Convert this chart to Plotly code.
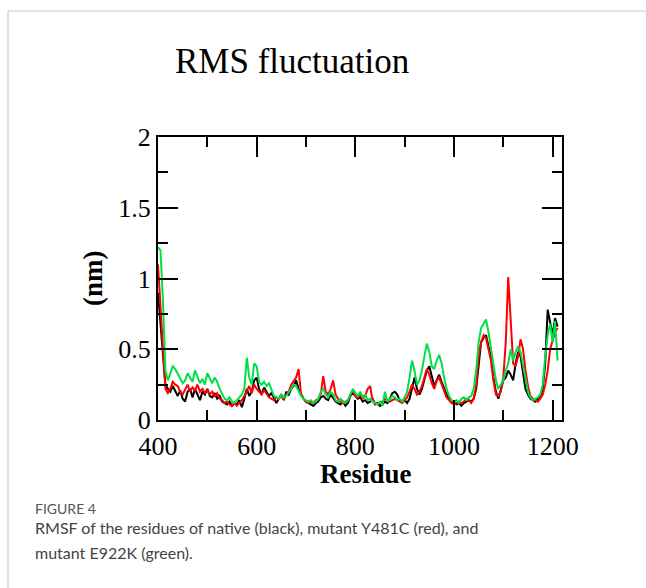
import plotly.graph_objects as go

residues = list(range(400, 1211, 5))

native = [
    0.90, 0.70, 0.45, 0.25, 0.22, 0.20, 0.24, 0.20, 0.17, 0.21,
    0.15, 0.13, 0.20, 0.22, 0.16, 0.22, 0.18, 0.14, 0.20, 0.18,
    0.22, 0.17, 0.16, 0.19, 0.15, 0.17, 0.13, 0.12, 0.11, 0.13,
    0.10, 0.12, 0.11, 0.14, 0.09, 0.15, 0.22, 0.17, 0.20, 0.28,
    0.30, 0.22, 0.18, 0.23, 0.20, 0.17, 0.19, 0.15, 0.12, 0.15,
    0.18, 0.14, 0.20, 0.18, 0.22, 0.24, 0.28, 0.22, 0.18, 0.15,
    0.13, 0.12, 0.11, 0.10, 0.12, 0.13, 0.16, 0.17, 0.15, 0.14,
    0.18, 0.15, 0.13, 0.12, 0.11, 0.13, 0.10, 0.12, 0.17, 0.19,
    0.17, 0.15, 0.16, 0.13, 0.14, 0.12, 0.13, 0.15, 0.11, 0.12,
    0.10, 0.11, 0.13, 0.12, 0.15, 0.19, 0.20, 0.18, 0.14, 0.13,
    0.14, 0.12, 0.15, 0.22, 0.30, 0.22, 0.18, 0.22, 0.28, 0.35,
    0.38, 0.30, 0.24, 0.28, 0.32, 0.27, 0.22, 0.18, 0.15, 0.13,
    0.12, 0.11, 0.12, 0.10, 0.12, 0.13, 0.14, 0.13, 0.15, 0.22,
    0.40, 0.55, 0.58, 0.60, 0.52, 0.45, 0.30, 0.20, 0.15, 0.22,
    0.28, 0.30, 0.35, 0.32, 0.28, 0.40, 0.48, 0.45, 0.35, 0.22,
    0.18, 0.15, 0.14, 0.13, 0.15, 0.16, 0.22, 0.40, 0.78, 0.70,
    0.60, 0.72, 0.66,
]

y481c = [
    1.10, 0.80, 0.50, 0.22, 0.19, 0.22, 0.27, 0.25, 0.24, 0.20,
    0.18, 0.22, 0.25, 0.20, 0.23, 0.21, 0.25, 0.20, 0.22, 0.19,
    0.21, 0.18, 0.20, 0.17, 0.19, 0.15, 0.14, 0.12, 0.13, 0.11,
    0.10, 0.12, 0.10, 0.12, 0.14, 0.17, 0.20, 0.24, 0.19, 0.25,
    0.22, 0.20, 0.18, 0.21, 0.18, 0.16, 0.15, 0.14, 0.16, 0.15,
    0.17, 0.15, 0.18, 0.20, 0.25, 0.28, 0.30, 0.36, 0.18, 0.15,
    0.13, 0.12, 0.13, 0.12, 0.14, 0.15, 0.18, 0.31, 0.20, 0.18,
    0.22, 0.28, 0.18, 0.15, 0.13, 0.12, 0.13, 0.14, 0.18, 0.21,
    0.17, 0.16, 0.18, 0.15, 0.17, 0.22, 0.24, 0.14, 0.12, 0.11,
    0.12, 0.13, 0.15, 0.14, 0.13, 0.14, 0.15, 0.14, 0.13, 0.12,
    0.14, 0.16, 0.20, 0.25, 0.22, 0.18, 0.20, 0.24, 0.30, 0.36,
    0.32, 0.26, 0.22, 0.28, 0.30, 0.25, 0.20, 0.16, 0.14, 0.12,
    0.11, 0.12, 0.13, 0.12, 0.13, 0.15, 0.14, 0.12, 0.15, 0.25,
    0.45, 0.55, 0.60, 0.58, 0.50, 0.42, 0.28, 0.18, 0.17, 0.20,
    0.30, 0.55, 1.01, 0.70, 0.40, 0.38, 0.45, 0.57, 0.50, 0.35,
    0.24, 0.17, 0.15, 0.14, 0.13, 0.15, 0.18, 0.25, 0.35, 0.50,
    0.56, 0.62, 0.65,
]

e922k = [
    1.22, 1.20, 0.85, 0.35, 0.28, 0.33, 0.38, 0.36, 0.33, 0.30,
    0.26, 0.28, 0.33, 0.30, 0.27, 0.35, 0.31, 0.26, 0.29, 0.25,
    0.33, 0.30, 0.26, 0.30, 0.27, 0.22, 0.18, 0.15, 0.14, 0.16,
    0.13, 0.12, 0.14, 0.16, 0.18, 0.22, 0.44, 0.30, 0.25, 0.40,
    0.38, 0.27, 0.25, 0.27, 0.24, 0.26, 0.22, 0.17, 0.16, 0.15,
    0.18, 0.16, 0.17, 0.20, 0.22, 0.25, 0.24, 0.20, 0.17, 0.15,
    0.14, 0.13, 0.14, 0.12, 0.13, 0.15, 0.20, 0.22, 0.18, 0.16,
    0.20, 0.18, 0.14, 0.13, 0.15, 0.13, 0.12, 0.14, 0.18, 0.22,
    0.19, 0.17, 0.20, 0.16, 0.18, 0.14, 0.15, 0.13, 0.12, 0.11,
    0.13, 0.10, 0.20, 0.13, 0.15, 0.17, 0.16, 0.14, 0.15, 0.13,
    0.16, 0.20, 0.30, 0.42, 0.35, 0.25, 0.28, 0.35, 0.45, 0.54,
    0.48, 0.38, 0.36, 0.42, 0.46, 0.40, 0.30, 0.22, 0.17, 0.14,
    0.13, 0.14, 0.12, 0.15, 0.16, 0.14, 0.16, 0.17, 0.22, 0.35,
    0.55, 0.65, 0.68, 0.71, 0.62, 0.50, 0.38, 0.28, 0.22, 0.25,
    0.28, 0.35, 0.40, 0.50, 0.42, 0.48, 0.52, 0.48, 0.38, 0.28,
    0.20, 0.16, 0.14, 0.15, 0.16, 0.18, 0.25, 0.45, 0.60, 0.68,
    0.55, 0.70, 0.42,
]

series_names = ["native", "mutant Y481C", "mutant E922K"]
series_colors = ["#000000", "#ff0000", "#00e046"]

W, H = 646, 588
L, R, T, B = 158, 84, 137, 168
PW, PH = W - L - R, H - T - B


def px(xp):
    return (xp - L) / PW


def py(yp):
    return (H - B - yp) / PH


fig = go.Figure()
for name, vals, col in zip(series_names, [native, y481c, e922k], series_colors):
    fig.add_trace(go.Scatter(x=residues, y=vals, mode="lines", name=name,
                             line=dict(color=col, width=2)))

serif = "Liberation Serif, Times New Roman, serif"
axis_common = dict(showline=True, linecolor="black", linewidth=2, mirror="ticks",
                   ticks="inside", ticklen=20, tickwidth=2, tickcolor="black",
                   showgrid=False, zeroline=False,
                   tickfont=dict(family=serif, size=26, color="black"))

fig.update_xaxes(range=[400, 1219], tick0=400, dtick=200, ticklabelstandoff=2,
                 minor=dict(ticks="inside", dtick=100, ticklen=10, tickwidth=2, tickcolor="black"),
                 **axis_common)
fig.update_yaxes(range=[0, 2], tick0=0, dtick=0.5,
                 minor=dict(ticks="inside", dtick=0.25, ticklen=10, tickwidth=2, tickcolor="black"),
                 **axis_common)

sans = "Lato, Open Sans, sans-serif"
annotations = [
    dict(text="RMS fluctuation", x=px(292), y=py(61), xanchor="center", yanchor="middle",
         font=dict(family=serif, size=35, color="black")),
    dict(text="<b>Residue</b>", x=px(366), y=py(474), xanchor="center", yanchor="middle",
         font=dict(family=serif, size=27, color="black")),
    dict(text="<b>(nm)</b>", x=px(93), y=py(278), xanchor="center", yanchor="middle",
         textangle=-90, font=dict(family=serif, size=27, color="black")),
    dict(text="FIGURE 4", x=px(33), y=py(508), xanchor="left", yanchor="middle",
         font=dict(family=sans, size=14, color="#555555")),
    dict(text="RMSF of the residues of native (black), mutant Y481C (red), and",
         x=px(33), y=py(527), xanchor="left", yanchor="middle",
         font=dict(family=sans, size=16, color="#444444")),
    dict(text="mutant E922K (green).",
         x=px(33), y=py(552), xanchor="left", yanchor="middle",
         font=dict(family=sans, size=16, color="#444444")),
]
for a in annotations:
    a.update(xref="paper", yref="paper", showarrow=False)

shapes = [
    dict(type="line", xref="paper", yref="paper", x0=px(8), x1=px(646), y0=py(11), y1=py(11),
         line=dict(color="#c8c8c8", width=1)),
    dict(type="line", xref="paper", yref="paper", x0=px(8), x1=px(8), y0=py(11), y1=py(588),
         line=dict(color="#c8c8c8", width=1)),
]

fig.update_layout(width=W, height=H, autosize=False,
                  margin=dict(l=L, r=R, t=T, b=B, pad=0),
                  paper_bgcolor="white", plot_bgcolor="white",
                  showlegend=False, annotations=annotations, shapes=shapes)

fig.write_html("out.html", config={"displayModeBar": False})
